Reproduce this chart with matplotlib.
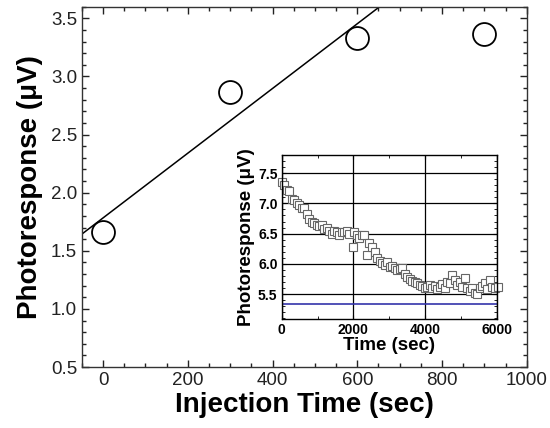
import numpy as np
import matplotlib
matplotlib.use("Agg")
import matplotlib.pyplot as plt
from matplotlib.ticker import MultipleLocator

plt.rcParams['font.family'] = ['Liberation Sans', 'DejaVu Sans']

# Main data
inj_time = [0, 300, 600, 900]
photoresp = [1.66, 2.865, 3.33, 3.365]
fit_n = 3  # linear fit over first three points

# Inset data
t_sec = [0, 70, 140, 210, 280, 350, 420, 490, 560, 630, 700, 770, 840, 910, 980,
         1050, 1120, 1190, 1260, 1330, 1400, 1470, 1540, 1610, 1680, 1750, 1820,
         1890, 1990, 2030, 2100, 2170, 2240, 2310, 2370, 2440, 2520, 2590, 2660,
         2730, 2800, 2870, 2940, 3010, 3080, 3150, 3220, 3290, 3360, 3430, 3500,
         3570, 3640, 3710, 3780, 3850, 3920, 3990, 4060, 4130, 4200, 4270, 4340,
         4410, 4480, 4550, 4620, 4690, 4760, 4830, 4900, 4970, 5040, 5110, 5180,
         5250, 5320, 5390, 5460, 5530, 5600, 5670, 5740, 5810, 5880, 5950, 6050]
v_inset = [7.35, 7.30, 7.22, 7.20, 7.07, 7.05, 7.00, 6.98, 6.92, 6.93, 6.82, 6.75,
           6.70, 6.68, 6.64, 6.62, 6.64, 6.58, 6.60, 6.55, 6.50, 6.55, 6.52, 6.48,
           6.53, 6.52, 6.55, 6.50, 6.28, 6.52, 6.48, 6.42, 6.48, 6.47, 6.14, 6.35,
           6.28, 6.20, 6.10, 6.05, 6.02, 5.98, 6.03, 5.95, 5.97, 5.93, 5.90, 5.92,
           5.94, 5.83, 5.78, 5.75, 5.72, 5.70, 5.68, 5.65, 5.63, 5.60, 5.62, 5.65,
           5.60, 5.64, 5.58, 5.62, 5.66, 5.60, 5.70, 5.68, 5.82, 5.74, 5.65, 5.70,
           5.62, 5.76, 5.60, 5.56, 5.60, 5.52, 5.50, 5.60, 5.64, 5.68, 5.58, 5.74,
           5.62, 5.60, 5.62]
baseline = 5.345

fig = plt.figure(figsize=(5.5, 4.28), dpi=100)
ax = fig.add_axes([0.149, 0.1425, 0.8086, 0.8418])

coef = np.polyfit(inj_time[:fit_n], photoresp[:fit_n], 1)
xl = np.array([-50, 1000])
ax.plot(xl, np.polyval(coef, xl), color='black', lw=1.1)
ax.plot(inj_time, photoresp, 'o', ms=16.5, mfc='none', mec='black', mew=1.3,
        clip_on=False)
ax.set_xlim(-50, 1000)
ax.set_ylim(0.5, 3.6)
ax.xaxis.set_major_locator(MultipleLocator(200))
ax.xaxis.set_minor_locator(MultipleLocator(50))
ax.yaxis.set_major_locator(MultipleLocator(0.5))
ax.yaxis.set_minor_locator(MultipleLocator(0.1))
ax.yaxis.set_major_formatter(matplotlib.ticker.FormatStrFormatter('%.1f'))
ax.tick_params(which='both', direction='in', top=True, right=True,
               labelsize=13.5, colors='#222222')
ax.tick_params(which='major', length=5, width=1)
ax.tick_params(which='minor', length=3, width=1)
for s in ax.spines.values():
    s.set_linewidth(1.0)
    s.set_color('#333333')
ax.set_xlabel('Injection Time (sec)', fontsize=20, fontweight='bold', labelpad=2)
ax.set_ylabel('Photoresponse (\u03bcV)', fontsize=20, fontweight='bold', labelpad=6)

# Inset
ai = fig.add_axes([0.5122, 0.2547, 0.3909, 0.3832])
ai.grid(True, color='black', lw=0.9)
ai.set_axisbelow(True)
ai.axhline(baseline, color='#3333aa', lw=1.2)
ai.plot(t_sec, v_inset, 's', ms=5.3, mfc='white', mec='#666666', mew=0.8,
        clip_on=False)
ai.set_xlim(0, 6000)
ai.set_ylim(5.09, 7.8)
ai.xaxis.set_major_locator(MultipleLocator(2000))
ai.xaxis.set_minor_locator(MultipleLocator(1000))
ai.yaxis.set_major_locator(MultipleLocator(0.5))
ai.yaxis.set_minor_locator(MultipleLocator(0.1))
ai.yaxis.set_major_formatter(matplotlib.ticker.FormatStrFormatter('%.1f'))
ai.tick_params(which='both', direction='in', top=True, right=True,
               labelsize=10, pad=3)
ai.tick_params(which='major', length=3, width=0.8)
ai.tick_params(which='minor', length=2, width=0.6)
for lab in ai.get_xticklabels() + ai.get_yticklabels():
    lab.set_fontweight('bold')
for s in ai.spines.values():
    s.set_linewidth(1.0)
ai.set_xlabel('Time (sec)', fontsize=13.5, fontweight='bold', labelpad=0)
ai.set_ylabel('Photoresponse (\u03bcV)', fontsize=13.5, fontweight='bold', labelpad=2)

fig.savefig('out.png', dpi=100)
